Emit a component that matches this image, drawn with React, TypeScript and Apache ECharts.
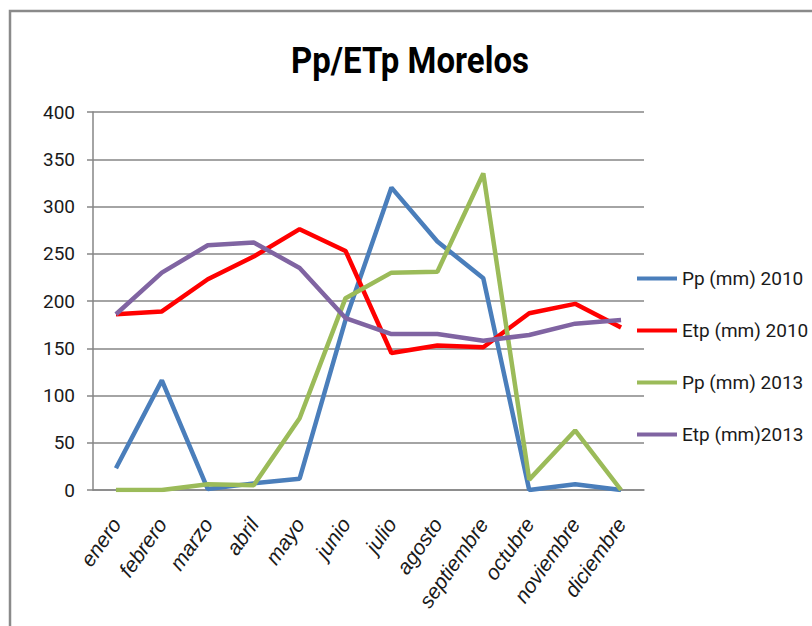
import React, { useEffect, useRef } from "react";
import * as echarts from "echarts";

const months = ["enero", "febrero", "marzo", "abril", "mayo", "junio", "julio", "agosto", "septiembre", "octubre", "noviembre", "diciembre"];
const pp2010 = [23, 116, 1, 7, 12, 180, 320, 263, 224, 0, 6, 0];
const etp2010 = [186, 189, 223, 247, 276, 253, 145, 153, 151, 187, 197, 172];
const pp2013 = [0, 0, 6, 5, 76, 203, 230, 231, 335, 11, 63, 0];
const etp2013 = [186, 230, 259, 262, 235, 182, 165, 165, 158, 164, 176, 180];
const seriesNames = ["Pp (mm) 2010", "Etp (mm) 2010", "Pp (mm) 2013", "Etp (mm)2013"];
const seriesColors = ["#4A7EBB", "#FF0000", "#9BBB59", "#8064A2"];
const titleText = "Pp/ETp Morelos";

const FONT = "Roboto, 'Liberation Sans', sans-serif";
const ITALIC_FONT = "'Liberation Sans', Arial, sans-serif";

export default function App() {
  const ref = useRef<HTMLDivElement>(null);
  useEffect(() => {
    if (!ref.current) return;
    const chart = echarts.init(ref.current, null, { renderer: "svg" });
    const datasets = [pp2010, etp2010, pp2013, etp2013];
    chart.setOption({
      animation: false,
      backgroundColor: "#ffffff",
      textStyle: { fontFamily: FONT },
      graphic: [
        {
          type: "rect",
          shape: { x: 10, y: 11, width: 900, height: 700 },
          style: { fill: "none", stroke: "#8a8a8a", lineWidth: 2.5 },
          silent: true,
        },
        {
          type: "text",
          x: 410,
          y: 61,
          scaleY: 1.12,
          style: {
            text: titleText,
            font: `bold 33px ${FONT}`,
            fill: "#000000",
            align: "center",
            verticalAlign: "middle",
          },
        },
      ],
      legend: {
        orient: "vertical",
        left: 632,
        top: 264,
        itemWidth: 40,
        itemHeight: 4,
        itemGap: 33,
        icon: "rect",
        textStyle: { fontSize: 19, color: "#1a1a1a", fontFamily: FONT },
        data: seriesNames,
      },
      grid: { left: 93, right: 168, top: 112, bottom: 136, containLabel: false },
      xAxis: {
        type: "category",
        data: months,
        boundaryGap: true,
        axisLine: { lineStyle: { color: "#868686", width: 1.5 } },
        axisTick: { alignWithLabel: true, length: 7, lineStyle: { color: "#868686", width: 1.5 } },
        axisLabel: {
          rotate: 55,
          margin: 30,
          fontSize: 21,
          fontStyle: "italic",
          color: "#1a1a1a",
          fontFamily: ITALIC_FONT,
          interval: 0,
        },
      },
      yAxis: {
        type: "value",
        min: 0,
        max: 400,
        interval: 50,
        axisLine: { show: true, lineStyle: { color: "#868686", width: 1.5 } },
        axisTick: { show: true, length: 6, lineStyle: { color: "#868686", width: 1.5 } },
        axisLabel: { margin: 18, fontSize: 19, color: "#1a1a1a", fontFamily: FONT },
        splitLine: { lineStyle: { color: "#868686", width: 1.5 } },
      },
      series: seriesNames.map((name, i) => ({
        name,
        type: "line",
        data: datasets[i],
        showSymbol: false,
        symbol: "none",
        color: seriesColors[i],
        lineStyle: { width: 4.5, color: seriesColors[i] },
      })),
    });
    return () => chart.dispose();
  }, []);
  return <div ref={ref} style={{ position: "fixed", left: 0, top: 0, width: 812, height: 626 }} />;
}
